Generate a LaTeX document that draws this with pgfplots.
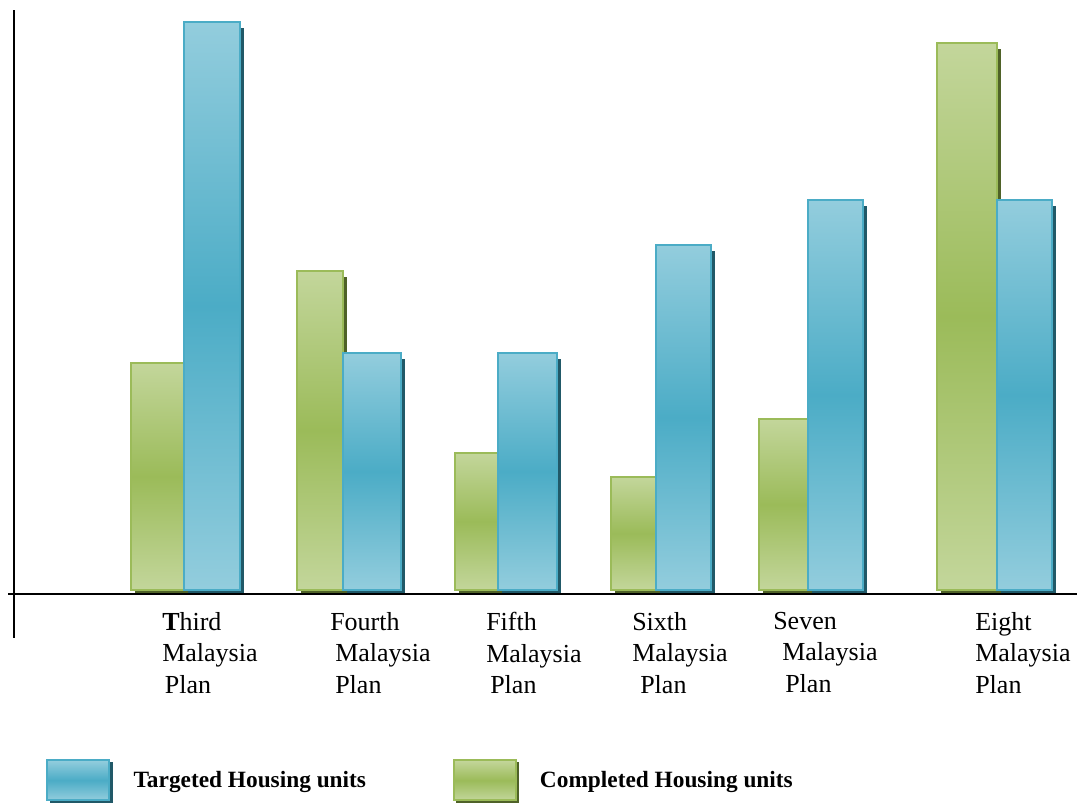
\documentclass[border=0pt]{standalone}
\usepackage{fontspec}
\setmainfont{Liberation Serif}
\usepackage{pgfplots}
\pgfplotsset{compat=1.18}

\definecolor{gLight}{HTML}{C3D69B}
\definecolor{gMid}{HTML}{9BBB59}
\definecolor{gShadow}{HTML}{4F6228}
\definecolor{bLight}{HTML}{93CDDD}
\definecolor{bMid}{HTML}{4BACC6}
\definecolor{bShadow}{HTML}{215968}

% 1 px of the reference = 0.75pt; x = pixel - 14, y = 590 - pixel
% each bar: left edge / right edge / height
\def\completed{117/170/227,283/329/319,441/484/137,597/642/113,745/794/171,923/983/547}
\def\targeted{170/226/568,329/387/237,484/543/237,642/697/345,794/849/390,983/1038/390}

\tikzset{
  gbar/.style={draw=gMid, line width=1.5pt, top color=gLight, bottom color=gLight, middle color=gMid},
  bbar/.style={draw=bMid, line width=1.5pt, top color=bLight, bottom color=bLight, middle color=bMid},
}

\begin{document}
\begin{tikzpicture}
\begin{axis}[
  name=ax,
  scale only axis,
  width=801.75pt, height=471pt,
  xmin=-6, xmax=1063, ymin=-48, ymax=580,
  axis lines=middle,
  axis line style={-, line width=1.2pt, black},
  x axis line style={draw=none},
  axis on top,
  clip=false,
  ytick=\empty,
  extra y ticks={-4},
  extra y tick labels={},
  extra y tick style={grid=major, major grid style={black, line width=1.2pt}},
  xtick={148,316,472,618,759,961},
  xticklabels={
    {\textbf{T}hird\\Malaysia\\\hspace{2pt}Plan},
    {Fourth\\\hspace{3.75pt}Malaysia\\\hspace{3.75pt}Plan},
    {Fifth\\Malaysia\\\hspace{3pt}Plan},
    {Sixth\\Malaysia\\\hspace{6pt}Plan},
    {Seven\\\hspace{6.75pt}Malaysia\\\hspace{9pt}Plan},
    {Eight\\Malaysia\\Plan}},
  major tick length=0pt,
  x tick label as interval=false,
  xticklabel style={anchor=north west, align=left, inner sep=0pt, yshift=-16.5pt,
    font=\fontsize{19.5}{23.6}\selectfont},
  legend columns=2,
  legend style={at={(0.03555,-0.1927)}, anchor=north west, draw=none, fill=none,
    inner sep=0pt, font=\fontsize{17.5}{21}\selectfont\bfseries,
    /tikz/every odd column/.append style={column sep=14pt},
    /tikz/every even column/.append style={column sep=63pt}},
]
\addlegendimage{legend image code/.code={
  \fill[bShadow] (2pt,-16.5pt) rectangle (48.5pt,13.5pt);
  \draw[bbar] (0pt,-15pt) rectangle (46.5pt,15pt);}}
\addlegendentry{Targeted Housing units}
\addlegendimage{legend image code/.code={
  \fill[gShadow] (2pt,-16.5pt) rectangle (48.5pt,13.5pt);
  \draw[gbar] (0pt,-15pt) rectangle (46.5pt,15pt);}}
\addlegendentry{Completed Housing units}

% drop shadows (one plot per bar)
\foreach \a/\b/\h in \completed {
  \edef\temp{\noexpand\addplot[ybar interval, forget plot, fill=gShadow, draw=none, yshift=-2.25pt,
    x filter/.expression={x+4}, y filter/.expression={max(y-3,0)}] coordinates {(\a,\h)(\b,0)};}
  \temp
}
\foreach \a/\b/\h in \targeted {
  \edef\temp{\noexpand\addplot[ybar interval, forget plot, fill=bShadow, draw=none, yshift=-2.25pt,
    x filter/.expression={x+4}, y filter/.expression={max(y-3,0)}] coordinates {(\a,\h)(\b,0)};}
  \temp
}
% Completed Housing units
\foreach \a/\b/\h in \completed {
  \edef\temp{\noexpand\addplot[ybar interval, forget plot, gbar] coordinates {(\a,\h)(\b,0)};}
  \temp
}
% Targeted Housing units
\foreach \a/\b/\h in \targeted {
  \edef\temp{\noexpand\addplot[ybar interval, forget plot, bbar] coordinates {(\a,\h)(\b,0)};}
  \temp
}
\end{axis}
\pgfresetboundingbox
\path ([xshift=-6pt,yshift=-125.25pt]ax.south west) rectangle ([yshift=7.5pt]ax.north east);
\end{tikzpicture}
\end{document}
